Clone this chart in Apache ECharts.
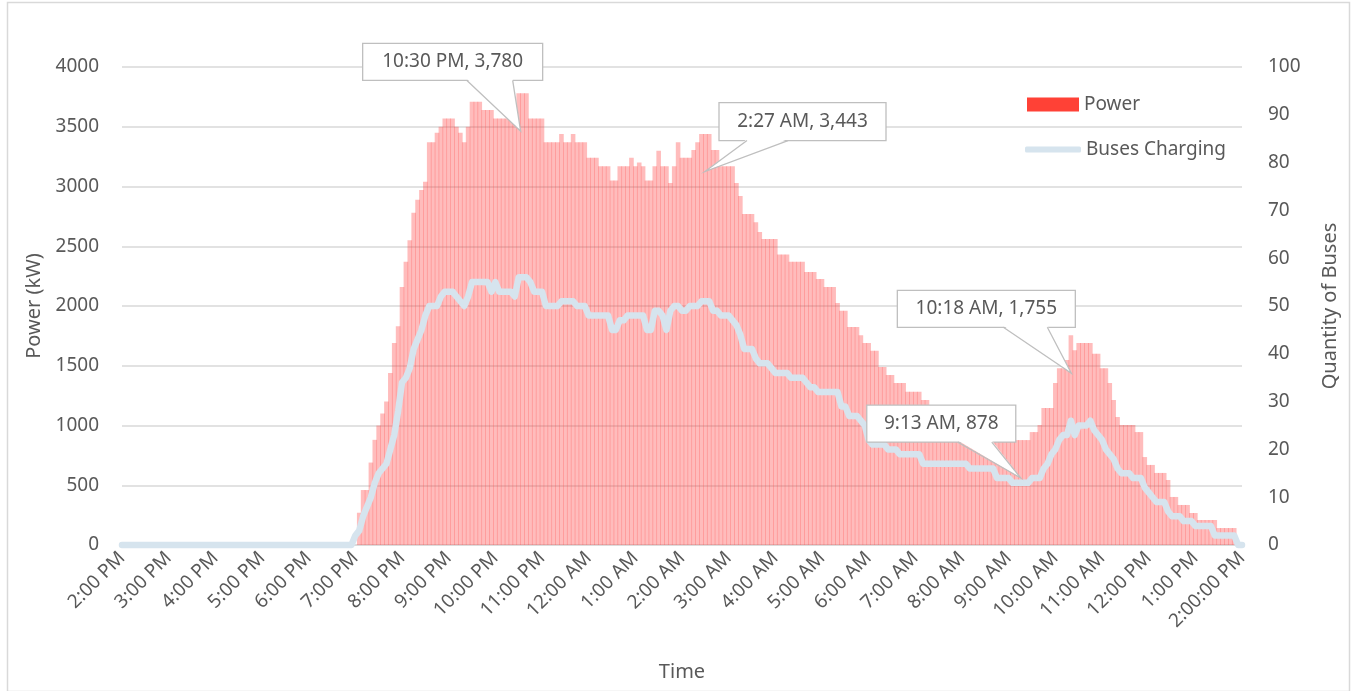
<!DOCTYPE html>
<html>
<head>
<meta charset="utf-8">
<title>Power and Buses Charging</title>
<script src="https://cdn.jsdelivr.net/npm/echarts@6.0.0/dist/echarts.min.js"></script>
<style>
  html, body { margin: 0; padding: 0; background: #fff; }
  #container { width: 1352px; height: 691px; }
</style>
</head>
<body>
<div id="container"></div>
<script>
// one value every 5 minutes, from 2:00 PM to 2:00 PM next day (12 values per row = 1 hour)
var stepMinutes = 5;

var powerKW = [
  0, 0, 0, 0, 0, 0, 0, 0, 0, 0, 0, 0,
  0, 0, 0, 0, 0, 0, 0, 0, 0, 0, 0, 0,
  0, 0, 0, 0, 0, 0, 0, 0, 0, 0, 0, 0,
  0, 0, 0, 0, 0, 0, 0, 0, 0, 0, 0, 0,
  0, 0, 0, 0, 0, 0, 0, 0, 0, 0, 0, 0,
  0, 270, 460, 460, 690, 880, 1000, 1100, 1200, 1440, 1690, 1830,
  2160, 2370, 2550, 2780, 2890, 2970, 3040, 3370, 3370, 3450, 3500, 3570,
  3570, 3570, 3500, 3450, 3370, 3500, 3710, 3710, 3710, 3640, 3640, 3640,
  3570, 3570, 3570, 3570, 3570, 3570, 3780, 3780, 3780, 3570, 3570, 3570,
  3570, 3370, 3370, 3370, 3370, 3440, 3370, 3370, 3440, 3370, 3370, 3370,
  3240, 3240, 3240, 3170, 3170, 3170, 3050, 3050, 3170, 3170, 3170, 3240,
  3170, 3200, 3170, 3050, 3050, 3170, 3300, 3170, 3170, 3030, 3170, 3370,
  3240, 3240, 3240, 3305, 3370, 3440, 3440, 3440, 3305, 3305, 3170, 3170,
  3170, 3170, 3030, 2920, 2770, 2770, 2770, 2700, 2620, 2560, 2560, 2560,
  2560, 2430, 2430, 2430, 2370, 2370, 2370, 2370, 2285, 2285, 2285, 2226,
  2226, 2159, 2159, 2159, 2025, 1960, 1960, 1825, 1825, 1825, 1755, 1690,
  1690, 1625, 1625, 1490, 1490, 1422, 1422, 1355, 1355, 1355, 1282, 1282,
  1282, 1282, 1213, 1213, 1150, 1150, 1080, 1080, 1080, 1010, 1010, 1010,
  1010, 945, 945, 945, 945, 945, 945, 945, 878, 878, 878, 878,
  878, 878, 878, 878, 878, 878, 945, 945, 1004, 1146, 1146, 1146,
  1355, 1480, 1480, 1548, 1755, 1630, 1690, 1690, 1690, 1690, 1600, 1600,
  1480, 1480, 1355, 1213, 1071, 1004, 1004, 1004, 1004, 945, 945, 736,
  670, 670, 603, 603, 603, 544, 402, 402, 335, 335, 335, 268,
  268, 209, 209, 209, 209, 209, 142, 142, 142, 142, 142, 0,
  0
];

var busesCharging = [
  0, 0, 0, 0, 0, 0, 0, 0, 0, 0, 0, 0,
  0, 0, 0, 0, 0, 0, 0, 0, 0, 0, 0, 0,
  0, 0, 0, 0, 0, 0, 0, 0, 0, 0, 0, 0,
  0, 0, 0, 0, 0, 0, 0, 0, 0, 0, 0, 0,
  0, 0, 0, 0, 0, 0, 0, 0, 0, 0, 0, 0,
  2, 3, 6, 8, 10, 13, 15, 16, 17, 20, 23, 28,
  34, 35, 37, 41, 43, 45, 48, 50, 50, 50, 52, 53,
  53, 53, 52, 51, 50, 52, 55, 55, 55, 55, 55, 53,
  55, 53, 53, 53, 53, 52, 56, 56, 56, 55, 53, 53,
  53, 50, 50, 50, 50, 51, 51, 51, 51, 50, 50, 50,
  48, 48, 48, 48, 48, 48, 45, 45, 47, 47, 48, 48,
  48, 48, 48, 45, 45, 49, 49, 48, 45, 49, 50, 50,
  49, 49, 50, 50, 50, 51, 51, 51, 49, 49, 48, 48,
  48, 47, 46, 44, 41, 41, 41, 39, 38, 38, 38, 37,
  36, 36, 36, 36, 35, 35, 35, 35, 34, 33, 33, 32,
  32, 32, 32, 32, 32, 29, 29, 27, 27, 27, 26, 25,
  22, 21, 21, 21, 21, 20, 20, 20, 19, 19, 19, 19,
  19, 19, 17, 17, 17, 17, 17, 17, 17, 17, 17, 17,
  17, 17, 16, 16, 16, 16, 16, 16, 16, 14, 14, 14,
  14, 13, 13, 13, 13, 13, 14, 14, 14, 16, 17, 19,
  20, 22, 23, 23, 26, 23, 25, 25, 25, 26, 24, 23,
  22, 20, 19, 18, 16, 15, 15, 15, 14, 14, 14, 12,
  11, 10, 9, 9, 9, 7, 6, 6, 6, 5, 5, 5,
  4, 4, 4, 4, 4, 2, 2, 2, 2, 2, 2, 0,
  0
];

var timeLabels = ['2:00 PM', '3:00 PM', '4:00 PM', '5:00 PM', '6:00 PM', '7:00 PM', '8:00 PM',
  '9:00 PM', '10:00 PM', '11:00 PM', '12:00 AM', '1:00 AM', '2:00 AM', '3:00 AM', '4:00 AM',
  '5:00 AM', '6:00 AM', '7:00 AM', '8:00 AM', '9:00 AM', '10:00 AM', '11:00 AM', '12:00 PM',
  '1:00 PM', '2:00:00 PM'];

// labelled points: [minutes after 2:00 PM, kW]
var calloutPoints = [[510, 3780], [747, 3443], [1218, 1755], [1153, 878]];
var calloutTexts = ['10:30 PM, 3,780', '2:27 AM, 3,443', '10:18 AM, 1,755', '9:13 AM, 878'];
// box placement relative to the point (px): dx, dy, width, height, wedge left, wedge right
var calloutBoxes = [
  [-156, -50, 180, 37, -52, -6],
  [16, -31, 167, 38, 44, 85],
  [-172, -45, 178, 37, -66, -22],
  [-152, -35, 149, 37, -61, -27]
];

var textColor = '#595959';
var font = 'Noto Sans';

var powerData = powerKW.map(function (v, i) { return [i * stepMinutes, v]; });
var busData = busesCharging.map(function (v, i) { return [i * stepMinutes, v]; });

function renderCallout(params, api) {
  var idx = api.value(2);
  var p = api.coord([api.value(0), api.value(1)]);
  var b = calloutBoxes[idx];
  var x0 = p[0] + b[0], y0 = p[1] + b[1], yb = y0 + b[3];
  var tip = [p[0] + 2, p[1] + 38];
  return {
    type: 'group',
    children: [
      { type: 'rect', shape: { x: x0, y: y0, width: b[2], height: b[3] },
        style: { fill: '#fff', stroke: '#BFBFBF', lineWidth: 1.3 } },
      { type: 'polygon', shape: { points: [[p[0] + b[4], yb - 1.5], tip, [p[0] + b[5], yb - 1.5]] },
        style: { fill: '#fff' } },
      { type: 'polyline', shape: { points: [[p[0] + b[4], yb], tip, [p[0] + b[5], yb]] },
        style: { stroke: '#BFBFBF', lineWidth: 1.3, fill: null } },
      { type: 'text', x: x0 + b[2] / 2, y: y0 + b[3] / 2,
        style: { text: calloutTexts[idx], align: 'center', verticalAlign: 'middle',
                 fill: textColor, font: '19px "' + font + '"' } }
    ]
  };
}

var dom = document.getElementById('container');
var myChart = echarts.init(dom);

var option = {
  animation: false,
  textStyle: { fontFamily: font },
  graphic: [{
    type: 'rect', left: 5, top: 0,
    shape: { width: 1342, height: 689 },
    style: { fill: 'none', stroke: '#D9D9D9', lineWidth: 1.5 }
  }],
  grid: { left: 122, right: 110, top: 67, bottom: 146, outerBoundsMode: 'none', containLabel: false },
  legend: [{
    left: 1022, top: 90,
    itemWidth: 52, itemHeight: 14, itemGap: 10,
    icon: 'rect',
    textStyle: { color: textColor, fontSize: 19, fontFamily: font },
    data: [{ name: 'Power', itemStyle: { color: '#FF4136', opacity: 1 } }]
  }, {
    left: 1020, top: 135,
    itemWidth: 56, itemHeight: 6,
    icon: 'roundRect',
    textStyle: { color: textColor, fontSize: 19, fontFamily: font },
    data: [{ name: 'Buses Charging', itemStyle: { color: '#D6E4EE' } }]
  }],
  xAxis: {
    type: 'value', min: 0, max: 1440, interval: 60,
    axisLine: { show: true, lineStyle: { color: '#D9D9D9', width: 1.5 } },
    axisTick: { show: false },
    splitLine: { show: false },
    axisLabel: {
      rotate: 45, margin: 10, color: textColor, fontSize: 19, fontFamily: font,
      formatter: function (v) { return timeLabels[Math.round(v / 60)]; }
    },
    name: 'Time', nameLocation: 'middle', nameGap: 117,
    nameTextStyle: { color: textColor, fontSize: 20, fontFamily: font }
  },
  yAxis: [{
    type: 'value', min: 0, max: 4000, interval: 500,
    axisLine: { show: false }, axisTick: { show: false },
    splitLine: { lineStyle: { color: '#D9D9D9', width: 1.5 } },
    axisLabel: { margin: 23, color: textColor, fontSize: 19, fontFamily: font,
                 formatter: function (v) { return String(v); } },
    name: 'Power (kW)', nameLocation: 'middle', nameGap: 74, nameRotate: 90,
    nameTextStyle: { color: textColor, fontSize: 20, fontFamily: font }
  }, {
    type: 'value', min: 0, max: 100, interval: 10,
    axisLine: { show: false }, axisTick: { show: false },
    splitLine: { show: false },
    axisLabel: { margin: 26, color: textColor, fontSize: 19, fontFamily: font },
    name: 'Quantity of Buses', nameLocation: 'middle', nameGap: 78, nameRotate: 90,
    nameTextStyle: { color: textColor, fontSize: 20, fontFamily: font }
  }],
  series: [{
    name: 'Power',
    type: 'bar',
    barWidth: 4.6,
    itemStyle: { color: 'rgba(255, 64, 64, 0.35)' },
    data: powerData,
    z: 2
  }, {
    name: 'Buses Charging',
    type: 'line',
    yAxisIndex: 1,
    showSymbol: false,
    symbol: 'none',
    clip: false,
    color: '#D6E4EE',
    lineStyle: { width: 6.5, color: '#D6E4EE', cap: 'round', join: 'round' },
    data: busData,
    z: 3
  }, {
    name: 'callouts',
    type: 'custom',
    clip: false,
    silent: true,
    z: 10,
    renderItem: renderCallout,
    data: calloutPoints.map(function (p, i) { return [p[0], p[1], i]; })
  }]
};

myChart.setOption(option, true);
</script>
</body>
</html>
